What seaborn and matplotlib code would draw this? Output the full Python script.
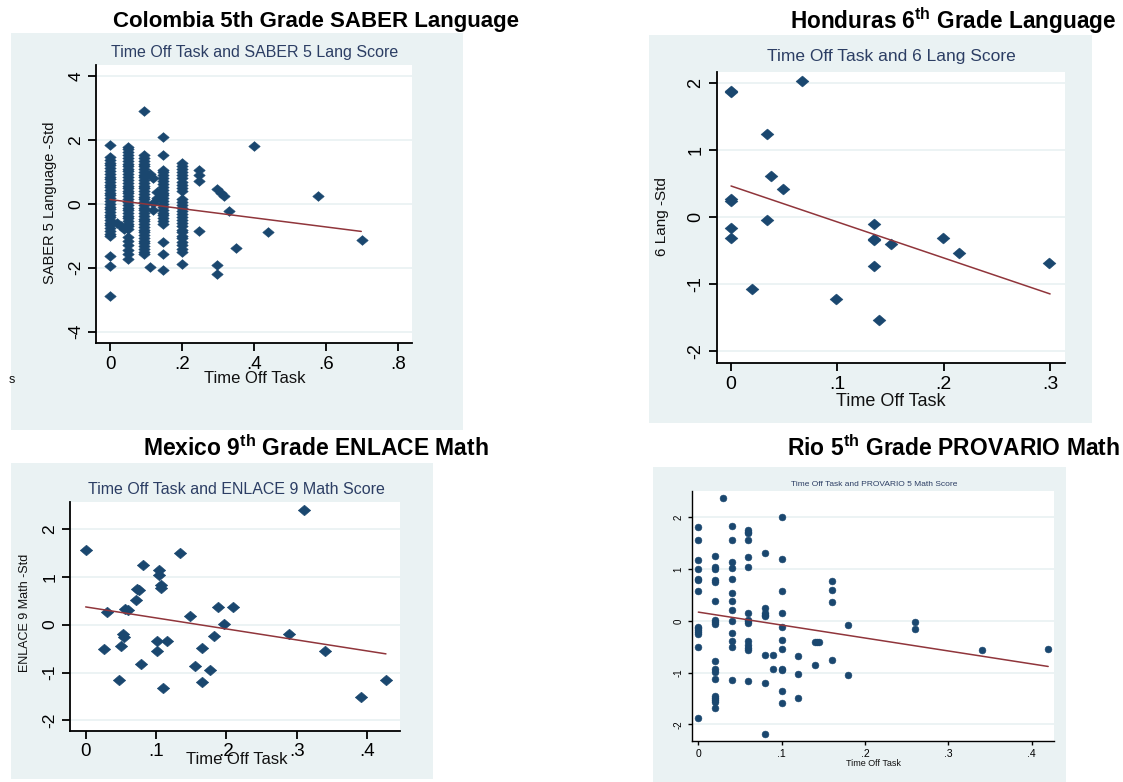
import matplotlib
matplotlib.use("Agg")
import matplotlib.pyplot as plt
from matplotlib.path import Path
import pandas as pd
import seaborn as sns

sns.set_theme(style="white")
plt.rcParams['font.family'] = ['Liberation Sans', 'DejaVu Sans']
plt.rcParams['mathtext.fontset'] = 'custom'
plt.rcParams['mathtext.rm'] = 'Liberation Sans'
plt.rcParams['mathtext.bf'] = 'Liberation Sans:bold'

NAVY = '#1a476f'
MAROON = '#90353b'
BG = '#eaf2f3'
SUB_COLOR = '#2c3e64'
W, H = 1123, 782

# ---- Colombia 5th grade SABER language (columns of stacked points)
saber_cols = [0.0, 0.02, 0.03, 0.04, 0.05, 0.094, 0.11, 0.12, 0.13, 0.146, 0.2,
              0.247, 0.296, 0.308, 0.317, 0.33, 0.35, 0.40, 0.44, 0.578, 0.70]
saber_scores = [
    [1.86, 1.47, 1.38, 1.30, 1.21, 1.12, 1.04, 0.95, 0.86, 0.78, 0.70, 0.61, 0.52, 0.44,
     0.35, 0.27, 0.18, 0.10, 0.01, -0.08, -0.16, -0.25, -0.33, -0.42, -0.50, -0.59,
     -0.67, -0.76, -0.85, -0.93, -1.01, -1.64, -1.94, -2.89],
    [-0.60], [-0.70], [-0.78],
    [1.79, 1.71, 1.62, 1.53, 1.45, 1.36, 1.27, 1.19, 1.10, 1.02, 0.93, 0.84, 0.76, 0.67,
     0.58, 0.50, 0.41, 0.33, 0.24, 0.15, 0.07, -0.02, -0.11, -0.19, -0.28, -0.37, -0.45,
     -0.54, -0.62, -0.70, -0.78, -1.05, -1.16, -1.30, -1.44, -1.58, -1.72],
    [2.91, 1.53, 1.44, 1.36, 1.27, 1.18, 1.10, 1.01, 0.92, 0.84, 0.75, 0.66, 0.58, 0.49,
     0.41, 0.32, 0.23, 0.15, 0.06, -0.03, -0.11, -0.20, -0.29, -0.37, -0.46, -0.54,
     -0.63, -0.72, -0.80, -0.89, -0.97, -1.06, -1.15, -1.23, -1.32, -1.41, -1.49, -1.58],
    [0.95, -1.98], [0.80, 0.02, -0.18], [0.38, 0.20],
    [2.10, 1.55, 1.08, 0.99, 0.90, 0.81, 0.72, 0.63, 0.54, 0.45, 0.36, 0.27, 0.18, 0.09,
     0.0, -0.09, -0.18, -0.27, -0.36, -0.45, -0.54, -0.62, -1.20, -1.57, -2.08],
    [1.30, 1.20, 1.10, 1.0, 0.90, 0.80, 0.70, 0.60, 0.50, 0.40, 0.16, 0.07, -0.03, -0.12,
     -0.22, -0.32, -0.41, -0.51, -0.60, -0.70, -0.80, -0.89, -0.99, -1.08, -1.18, -1.28,
     -1.40, -1.52, -1.87],
    [1.08, 0.90, 0.72, -0.84], [0.48, -1.90, -2.19], [0.33], [0.24], [-0.23], [-1.38],
    [1.81], [-0.89], [0.26], [-1.13],
]
saber_fit_x = [0.0, 0.698]
saber_fit_y = [0.14, -0.86]

# ---- Honduras 6th grade language
hond_time = [0, 0, 0.0665, 0.034, 0.038, 0.049, 0, 0, 0.034, 0, 0, 0.020, 0.099,
             0.134, 0.134, 0.134, 0.150, 0.134, 0.1395, 0.199, 0.214, 0.299]
hond_score = [1.86, 1.88, 2.02, 1.24, 0.61, 0.41, 0.24, 0.27, -0.04, -0.16, -0.31, -1.08,
              -1.23, -0.11, -0.33, -0.35, -0.40, -0.74, -1.54, -0.31, -0.54, -0.69]
hond_fit_x = [0.0, 0.3]
hond_fit_y = [0.46, -1.15]

# ---- Mexico 9th grade ENLACE math
enl_time = [0, 0.31, 0.081, 0.104, 0.104, 0.134, 0.107, 0.107, 0.073, 0.076, 0.072,
            0.031, 0.056, 0.060, 0.148, 0.188, 0.210, 0.197, 0.053, 0.055, 0.026, 0.050,
            0.101, 0.116, 0.101, 0.183, 0.166, 0.078, 0.156, 0.177, 0.047, 0.166, 0.110,
            0.289, 0.340, 0.391, 0.427]
enl_score = [1.55, 2.39, 1.25, 1.14, 1.04, 1.50, 0.83, 0.76, 0.75, 0.72, 0.51,
             0.26, 0.32, 0.30, 0.18, 0.37, 0.37, 0.01, -0.20, -0.25, -0.51, -0.45,
             -0.34, -0.34, -0.54, -0.24, -0.48, -0.83, -0.86, -0.95, -1.16, -1.19, -1.33,
             -0.20, -0.54, -1.50, -1.16]
enl_fit_x = [0.0, 0.427]
enl_fit_y = [0.37, -0.61]

# ---- Rio 5th grade PROVARIO math
prov_cols = [0.0, 0.02, 0.03, 0.04, 0.06, 0.08, 0.09, 0.10, 0.12, 0.14, 0.142, 0.145,
             0.16, 0.18, 0.26, 0.34, 0.42]
prov_scores = [
    [1.81, 1.56, 1.18, 1.01, 0.81, 0.79, 0.57, -0.11, -0.14, -0.17, -0.21, -0.25, -0.50, -1.88],
    [1.26, 1.04, 1.01, 0.79, 0.76, 0.39, 0.01, -0.02, -0.05, -0.78, -0.93, -0.98, -1.12,
     -1.46, -1.49, -1.53, -1.57, -1.68],
    [2.37],
    [1.83, 1.56, 1.14, 1.03, 0.81, 0.53, 0.39, 0.21, 0.0, -0.24, -0.38, -0.50, -1.15],
    [1.75, 1.72, 1.69, 1.56, 1.24, 1.04, 0.15, 0.02, -0.01, -0.04, -0.38, -0.46, -0.53,
     -0.57, -1.16],
    [1.31, 0.24, 0.15, 0.12, 0.09, -0.66, -1.20, -2.18],
    [-0.66, -0.93],
    [2.01, 1.20, 0.58, 0.15, -0.11, -0.36, -0.55, -0.92, -0.95, -1.36, -1.59],
    [-0.67, -1.03, -1.49],
    [-0.40, -0.86], [-0.40], [-0.40],
    [0.77, 0.59, 0.37, -0.75],
    [-0.08, -1.05],
    [-0.02, -0.16],
    [-0.56],
    [-0.55],
]
prov_fit_x = [0.0, 0.42]
prov_fit_y = [0.17, -0.88]


def columns_to_frame(cols, scores):
    rows = [(c, s) for c, col in zip(cols, scores) for s in col]
    return pd.DataFrame(rows, columns=['time', 'score'])


saber_df = columns_to_frame(saber_cols, saber_scores)
hond_df = pd.DataFrame({'time': hond_time, 'score': hond_score})
enl_df = pd.DataFrame({'time': enl_time, 'score': enl_score})
prov_df = columns_to_frame(prov_cols, prov_scores)

# Stata-like diamond (a bit wider than tall)
DIAMOND = Path([(-1, 0), (0, 0.85), (1, 0), (0, -0.85), (-1, 0)], closed=True)


def fig_rect(l, t, r, b):
    return [l / W, 1 - b / H, (r - l) / W, (b - t) / H]


def fig_xy(x, y):
    return x / W, 1 - y / H


def draw_panel(fig, df, fit_x, fit_y, bg_px, ax_px, xlim, ylim, xticks, xlabels,
               yticks, ylabels, marker, msize, subtitle, sub_px, sub_size,
               xlab_px, xlab_size, ylab, ylab_px, ylab_size, xtick_size, ytick_size,
               tick_len, lw=1.3):
    # light graph-region background behind the plot
    bg = fig.add_axes(fig_rect(*bg_px), zorder=-5)
    bg.set_facecolor(BG)
    bg.set_xticks([])
    bg.set_yticks([])
    for sp in bg.spines.values():
        sp.set_visible(False)

    ax = fig.add_axes(fig_rect(*ax_px), zorder=1)
    ax.set_facecolor('white')
    sns.scatterplot(data=df, x='time', y='score', marker=marker, s=msize,
                    color=NAVY, edgecolor=NAVY, linewidth=0.4, ax=ax, zorder=3)
    sns.lineplot(x=fit_x, y=fit_y, color=MAROON, lw=1.1, ax=ax, zorder=4)
    ax.set_xlim(*xlim)
    ax.set_ylim(*ylim)
    ax.set_xticks(xticks, xlabels, fontsize=xtick_size)
    ax.set_yticks(yticks, ylabels, fontsize=ytick_size)
    ax.tick_params(axis='y', labelrotation=90)
    ax.tick_params(direction='out', length=tick_len, width=lw, color='black',
                   labelcolor='black', left=True, bottom=True, pad=3)
    ax.yaxis.grid(True, color=BG, lw=1.3)
    ax.xaxis.grid(False)
    ax.set_axisbelow(True)
    for side in ['top', 'right']:
        ax.spines[side].set_visible(False)
    for side in ['left', 'bottom']:
        ax.spines[side].set_color('black')
        ax.spines[side].set_linewidth(lw)
    for lab in ax.get_yticklabels():
        lab.set_va('center')

    fig.text(*fig_xy(*sub_px), subtitle, ha='center', va='center',
             fontsize=sub_size, color=SUB_COLOR)
    ax.set_xlabel('Time Off Task', fontsize=xlab_size, color='#111111')
    ax.xaxis.set_label_coords(*fig_xy(*xlab_px), transform=fig.transFigure)
    ax.xaxis.label.set_va('center')
    if ylab:
        ax.set_ylabel(ylab, fontsize=ylab_size, color='#111111')
        ax.yaxis.set_label_coords(*fig_xy(*ylab_px), transform=fig.transFigure)
        ax.yaxis.label.set_va('center')
    else:
        ax.set_ylabel('')
    return ax


fig = plt.figure(figsize=(W / 100, H / 100), dpi=100)
fig.patch.set_facecolor('white')

draw_panel(fig, saber_df, saber_fit_x, saber_fit_y,
           bg_px=(11, 33, 463, 430), ax_px=(96, 65, 412, 343),
           xlim=(-0.039, 0.839), ylim=(-4.36, 4.36),
           xticks=[0, 0.2, 0.4, 0.6, 0.8], xlabels=['0', '.2', '.4', '.6', '.8'],
           yticks=[-4, -2, 0, 2, 4], ylabels=['-4', '-2', '0', '2', '4'],
           marker=DIAMOND, msize=68,
           subtitle='Time Off Task and SABER 5 Lang Score', sub_px=(255, 52), sub_size=11.5,
           xlab_px=(255, 379), xlab_size=12,
           ylab='SABER 5 Language -Std', ylab_px=(50, 203), ylab_size=10.5,
           xtick_size=13.5, ytick_size=12.5, tick_len=6)

draw_panel(fig, hond_df, hond_fit_x, hond_fit_y,
           bg_px=(649, 35, 1092, 423), ax_px=(717, 72, 1065, 363),
           xlim=(-0.0132, 0.314), ylim=(-2.18, 2.16),
           xticks=[0, 0.1, 0.2, 0.3], xlabels=['0', '.1', '.2', '.3'],
           yticks=[-2, -1, 0, 1, 2], ylabels=['-2', '-1', '0', '1', '2'],
           marker=DIAMOND, msize=85,
           subtitle='Time Off Task and 6 Lang Score', sub_px=(891, 56), sub_size=12.5,
           xlab_px=(891, 401), xlab_size=13,
           ylab='6 Lang -Std', ylab_px=(662, 217), ylab_size=11,
           xtick_size=14, ytick_size=13, tick_len=6)

draw_panel(fig, enl_df, enl_fit_x, enl_fit_y,
           bg_px=(11, 463, 433, 779), ax_px=(70, 502, 400, 731),
           xlim=(-0.0223, 0.447), ylim=(-2.22, 2.56),
           xticks=[0, 0.1, 0.2, 0.3, 0.4], xlabels=['0', '.1', '.2', '.3', '.4'],
           yticks=[-2, -1, 0, 1, 2], ylabels=['-2', '-1', '0', '1', '2'],
           marker=DIAMOND, msize=80,
           subtitle='Time Off Task and ENLACE 9 Math Score', sub_px=(236, 490), sub_size=11.5,
           xlab_px=(237, 760), xlab_size=12,
           ylab='ENLACE 9 Math -Std', ylab_px=(25, 613), ylab_size=9,
           xtick_size=13.5, ytick_size=12.5, tick_len=6)

draw_panel(fig, prov_df, prov_fit_x, prov_fit_y,
           bg_px=(653, 467, 1066, 782), ax_px=(692, 491, 1054, 741),
           xlim=(-0.0076, 0.427), ylim=(-2.32, 2.51),
           xticks=[0, 0.1, 0.2, 0.3, 0.4], xlabels=['0', '.1', '.2', '.3', '.4'],
           yticks=[-2, -1, 0, 1, 2], ylabels=['-2', '-1', '0', '1', '2'],
           marker='o', msize=24,
           subtitle='Time Off Task and PROVARIO 5 Math Score', sub_px=(874, 485), sub_size=6,
           xlab_px=(873, 764), xlab_size=6.5,
           ylab=None, ylab_px=None, ylab_size=None,
           xtick_size=7.5, ytick_size=7, tick_len=3, lw=1.0)

# report headings above each graph
fig.text(*fig_xy(316, 21), 'Colombia 5th Grade SABER Language', ha='center', va='center',
         fontsize=16, fontweight='bold', color='black')
fig.text(*fig_xy(1116, 21), r'Honduras 6$^{\mathbf{th}}$ Grade Language', ha='right',
         va='center', fontsize=16.3, fontweight='bold', color='black')
fig.text(*fig_xy(316, 448), r'Mexico 9$^{\mathbf{th}}$ Grade ENLACE Math', ha='center',
         va='center', fontsize=16.5, fontweight='bold', color='black')
fig.text(*fig_xy(1120, 448), r'Rio 5$^{\mathbf{th}}$ Grade PROVARIO Math', ha='right',
         va='center', fontsize=16.5, fontweight='bold', color='black')
fig.text(*fig_xy(12, 380), 's', ha='center', va='center', fontsize=9, color='#111111')

fig.savefig('out.png', dpi=100, facecolor='white')
